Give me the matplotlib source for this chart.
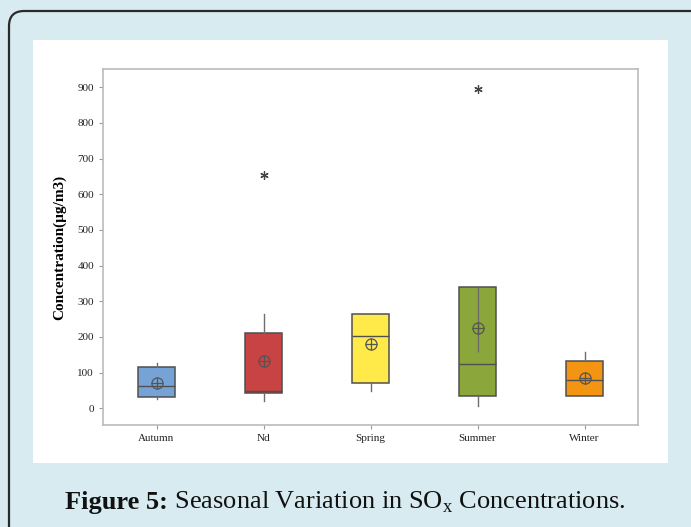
import numpy as np
import matplotlib.pyplot as plt
from matplotlib.patches import FancyBboxPatch, Rectangle

# Valores (µg/m3)
seasons = ['Autumn', 'Nd', 'Spring', 'Summer', 'Winter']
q1 = [31, 44, 71, 34, 34]
medians = [62, 49, 202, 124, 80]
q3 = [115, 210, 263, 340, 133]
whis_lo = [25, 21, 49, 5, 34]
whis_hi = [126, 264, 263, 340, 157]
means = [72, 133, 179, 226, 84]
outliers = [[], [653], [], [896], []]
summer_inner = [157, 340]

colors = ['#76A3D6', '#C84343', '#FFEA4A', '#8BA73B', '#F39512']
yticks = [0, 100, 200, 300, 400, 500, 600, 700, 800, 900]

plt.rcParams['font.family'] = ['Liberation Serif', 'DejaVu Serif']
plt.rcParams['mathtext.fontset'] = 'custom'
plt.rcParams['mathtext.rm'] = 'Liberation Serif'

fig = plt.figure(figsize=(6.91, 5.27), dpi=100)
fig.patch.set_facecolor('#D7EBF0')

# moldura arredondada e painel branco
W, H = 691.0, 527.0
border = FancyBboxPatch((9 / W, -0.2), 1.2, 1.2 - 11 / H,
                        boxstyle='round,pad=0,rounding_size=0.022',
                        transform=fig.transFigure, facecolor='none',
                        edgecolor='#2a2a2a', linewidth=1.6, mutation_aspect=W / H,
                        zorder=-2)
fig.patches.append(border)
panel = Rectangle((33 / W, 1 - 463 / H), 635 / W, 423 / H,
                  transform=fig.transFigure, facecolor='white', edgecolor='none',
                  zorder=-1)
fig.patches.append(panel)

ax = fig.add_axes([103 / W, 1 - 425 / H, 535 / W, 356 / H])
ax.set_zorder(2)

stats = []
for i in range(len(seasons)):
    stats.append({'label': seasons[i], 'q1': q1[i], 'med': medians[i], 'q3': q3[i],
                  'whislo': whis_lo[i], 'whishi': whis_hi[i], 'fliers': outliers[i],
                  'mean': means[i]})

bp = ax.bxp(stats, positions=range(1, 6), widths=0.34, patch_artist=True,
            showmeans=False, showcaps=False, showfliers=True,
            boxprops=dict(edgecolor='#4f4f4f', linewidth=1.1),
            medianprops=dict(color='#4f4f4f', linewidth=1.0),
            whiskerprops=dict(color='#6e6e6e', linewidth=1.0),
            flierprops=dict(marker=(6, 2, 0), markersize=6, markeredgecolor='#444444',
                            markeredgewidth=0.9, linestyle='none'))
for patch, c in zip(bp['boxes'], colors):
    patch.set_facecolor(c)

ax.vlines(4, summer_inner[0], summer_inner[1], color='#6e6e6e', linewidth=1.0, zorder=3)

# média: círculo com cruz
ax.plot(range(1, 6), means, 'o', markersize=8, markerfacecolor='none',
        markeredgecolor='#555555', markeredgewidth=0.9, zorder=4)
ax.plot(range(1, 6), means, '+', markersize=8, markeredgecolor='#555555',
        markeredgewidth=0.9, zorder=4)

ax.set_xlim(0.5, 5.5)
ax.set_ylim(-47, 951)
ax.set_yticks(yticks)
ax.set_xticks(range(1, 6))
ax.set_xticklabels(seasons)
ax.tick_params(labelsize=8, color='#999999', length=3, labelcolor='#222222')
for s in ax.spines.values():
    s.set_color('#bbbbbb')
    s.set_linewidth(1.2)
ax.set_ylabel('Concentration(µg/m3)', fontsize=11, fontweight='bold')
ax.yaxis.set_label_coords(-0.068, 0.5)

# legenda da figura: parte em negrito + resto, lado a lado
cap_y = 1 - 502 / H
t1 = fig.text(0, cap_y, 'Figure 5:', fontsize=19, fontweight='bold',
              ha='left', va='center', color='#111111')
t2 = fig.text(0, cap_y, r' Seasonal Variation in SO$_{\mathrm{x}}$ Concentrations.',
              fontsize=19, ha='left', va='center', color='#111111')
fig.canvas.draw()
r = fig.canvas.get_renderer()
w1 = t1.get_window_extent(r).width
w2 = t2.get_window_extent(r).width
x0 = (W - w1 - w2) / 2 / W
t1.set_x(x0)
t2.set_x(x0 + w1 / W)

fig.savefig('out.png', dpi=100, facecolor=fig.get_facecolor())
